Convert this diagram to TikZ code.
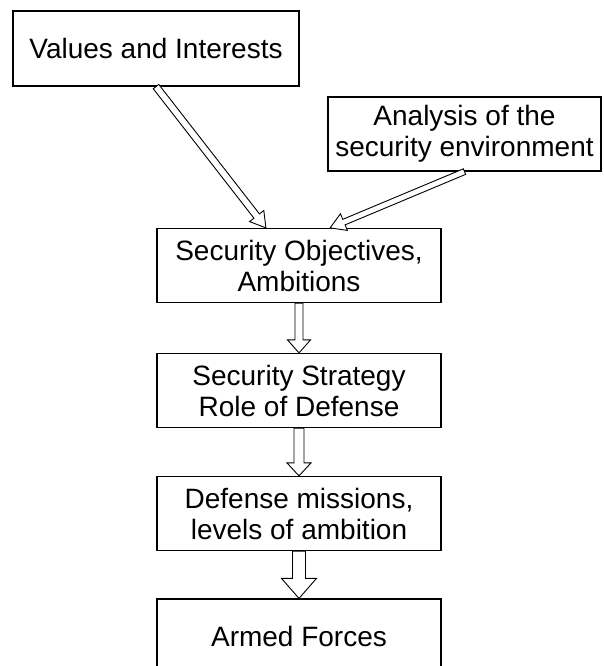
\documentclass[tikz,border=0pt]{standalone}
\usepackage{fontspec}
\setmainfont{Liberation Sans}
\usetikzlibrary{calc}

\begin{document}
\begin{tikzpicture}[x=1pt, y=-1pt]
        \tikzstyle{box}=[rectangle,draw=black,line width=1.2pt,inner sep=0pt,align=center,font=\fontsize{28}{31}\selectfont]
        \tikzset{blockarrow/.style n args={3}{draw=black,fill=white,line width=0.9pt,
            to path={($(\tikztostart)!#1!90:(\tikztotarget)$)
                -- ($(\tikztotarget)!#3!(\tikztostart)!#1!-90:(\tikztostart)$)
                -- ($(\tikztotarget)!#3!(\tikztostart)!#2!-90:(\tikztostart)$)
                -- (\tikztotarget)
                -- ($(\tikztotarget)!#3!(\tikztostart)!#2!90:(\tikztostart)$)
                -- ($(\tikztotarget)!#3!(\tikztostart)!#1!90:(\tikztostart)$)
                -- ($(\tikztostart)!#1!-90:(\tikztotarget)$) -- cycle}}}

        \useasboundingbox (0,0) rectangle (603,666);
        \clip (0,0) rectangle (603,666);

        % Draw the two source boxes
        \node[box, minimum width=286pt, minimum height=75pt] (vals) at (156,48.5) {Values and Interests};
        \node[box, minimum width=273pt, minimum height=74pt] (env) at (464.5,134) {Analysis of the\\security environment};

        % Draw the chain of boxes
        \foreach \name/\y/\txt in {{obj/265.5/Security Objectives,\\Ambitions}, {strat/390.5/Security Strategy\\Role of Defense}, {miss/513.5/Defense missions,\\levels of ambition}, {forces/636/Armed Forces}}
            \node[box, minimum width=284pt, minimum height=74pt] (\name) at (299,\y) {\txt};

        % Connect the source boxes to the objectives
        \coordinate (obj-in1) at ($(obj.north west)!0.384!(obj.north east)$);
        \coordinate (obj-in2) at ($(obj.north west)!0.609!(obj.north east)$);
        \draw[blockarrow={3.5pt}{9pt}{15pt}] (vals.south) to (obj-in1);
        \draw[blockarrow={3pt}{9pt}{15pt}] (env.south) to (obj-in2);

        % Connect the chain from top to bottom
        \foreach \source/\dest/\sw/\hw/\hl in {obj/strat/4pt/11.5pt/13pt, strat/miss/5pt/12pt/13pt, miss/forces/6.5pt/17.5pt/20pt}
            \draw[blockarrow={\sw}{\hw}{\hl}] (\source.south) to (\dest.north);
\end{tikzpicture}
\end{document}
